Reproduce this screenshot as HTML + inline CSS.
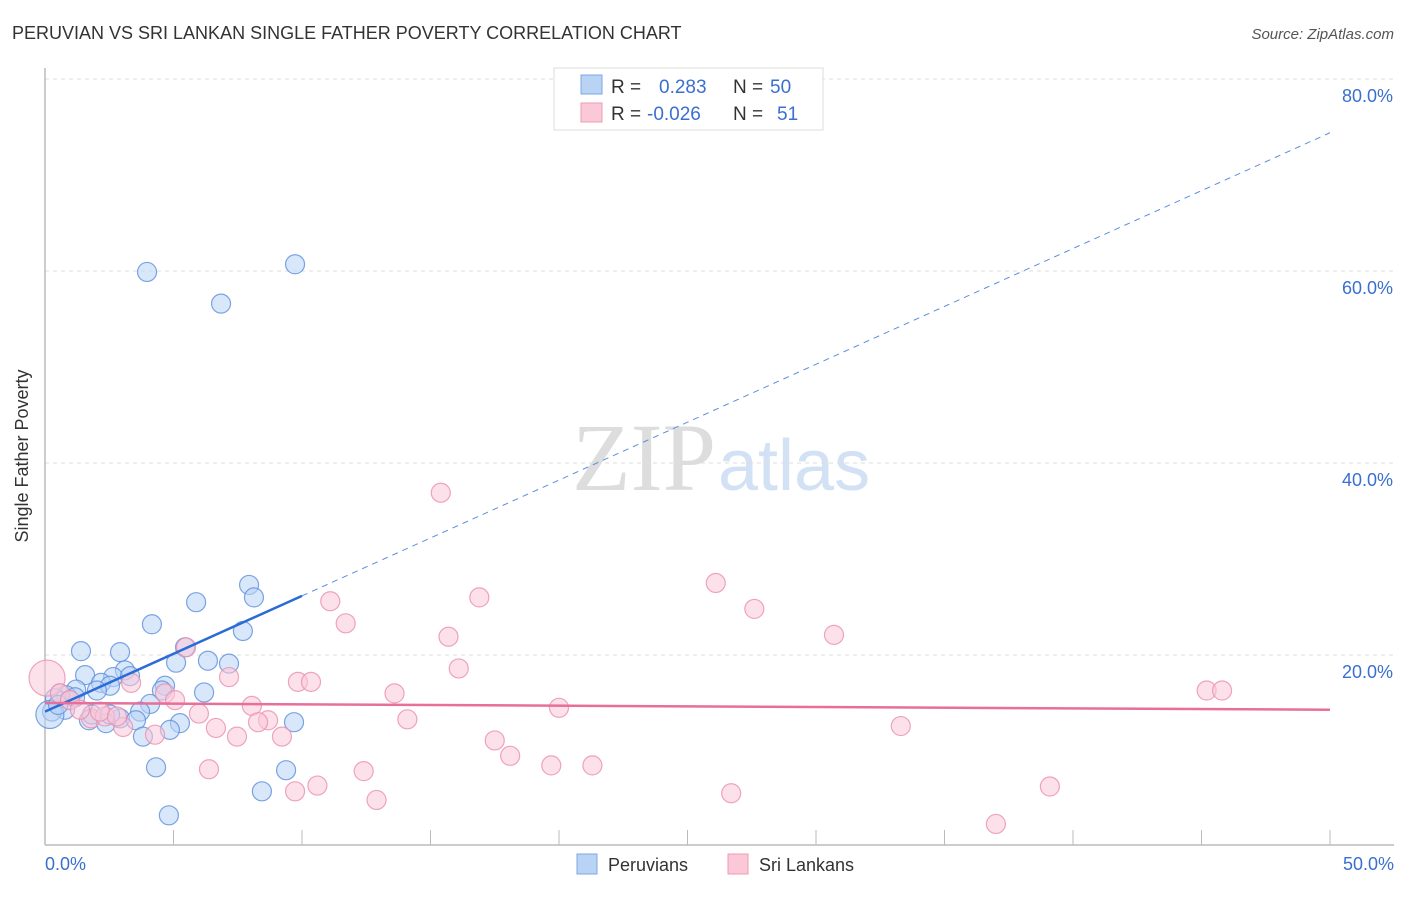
<!DOCTYPE html>
<html><head><meta charset="utf-8"><style>
body{margin:0;background:#fff;font-family:"Liberation Sans",sans-serif;}
</style></head><body>
<svg width="1406" height="892" xmlns="http://www.w3.org/2000/svg" font-family="Liberation Sans, sans-serif">
<text x="12" y="39" font-size="18" fill="#333">PERUVIAN VS SRI LANKAN SINGLE FATHER POVERTY CORRELATION CHART</text>
<text x="1394" y="39" font-size="15" fill="#555" font-style="italic" text-anchor="end">Source: ZipAtlas.com</text>
<text x="716" y="490" font-size="96" font-family="Liberation Serif, serif" fill="#ddd" text-anchor="end">ZIP</text>
<text x="718" y="490" font-size="72" fill="#d3e1f5">atlas</text>
<g id="grid"></g><g id="axes"></g><g id="pts"></g><g id="trends"></g>
<text x="28" y="456" font-size="18" fill="#333" transform="rotate(-90 28 456)" text-anchor="middle">Single Father Poverty</text>
<text x="45" y="870" font-size="18" fill="#3a6fd0">0.0%</text>
<text x="1394" y="870" font-size="18" fill="#3a6fd0" text-anchor="end">50.0%</text>
<g>
<rect x="554" y="68" width="269" height="62" fill="#fff" stroke="#ddd"/>
<rect x="581" y="75" width="21" height="19" fill="#b9d3f5" stroke="#7aa7e6"/>
<rect x="581" y="103" width="21" height="19" fill="#fbc8d8" stroke="#ee9bb6"/>
<text x="611" y="93" font-size="19" fill="#333">R =</text><text x="659" y="93" font-size="19" fill="#3a6fd0">0.283</text>
<text x="733" y="93" font-size="19" fill="#333">N =</text><text x="770" y="93" font-size="19" fill="#3a6fd0">50</text>
<text x="611" y="120" font-size="19" fill="#333">R =</text><text x="647" y="120" font-size="19" fill="#3a6fd0">-0.026</text>
<text x="733" y="120" font-size="19" fill="#333">N =</text><text x="777" y="120" font-size="19" fill="#3a6fd0">51</text>
</g>
<g>
<rect x="577" y="854" width="20" height="20" fill="#b9d3f5" stroke="#7aa7e6"/>
<text x="608" y="871" font-size="18" fill="#333">Peruvians</text>
<rect x="728" y="854" width="20" height="20" fill="#fbc8d8" stroke="#ee9bb6"/>
<text x="759" y="871" font-size="18" fill="#333">Sri Lankans</text>
</g>
</svg>
<script>
const yTicks=[20,40,60,80];
const yTickLabels=["20.0%","40.0%","60.0%","80.0%"];
const xTicks=[0,5,10,15,20,25,30,35,40,45,50];
const blueX=[3.97,9.73,6.85,7.94,8.13,5.88,4.16,7.70,5.45,1.40,2.92,6.34,7.16,5.10,3.11,1.56,2.65,3.31,2.18,2.53,4.67,4.55,2.02,1.21,6.19,0.58,0.82,0.39,0.97,4.09,3.70,0.78,0.27,2.92,1.71,2.37,3.54,5.25,9.69,3.81,4.86,4.32,9.38,8.44,4.82,0.19,0.51,1.83,2.53,1.17];
const blueY=[59.9,60.7,56.6,27.3,26.0,25.5,23.2,22.5,20.8,20.4,20.3,19.4,19.1,19.2,18.4,17.9,17.7,17.8,17.1,16.8,16.8,16.3,16.3,16.4,16.1,16.0,15.8,15.5,15.3,14.9,14.1,14.3,14.1,13.4,13.2,12.9,13.2,12.9,13.0,11.5,12.2,8.3,8.0,5.8,3.3,13.8,14.8,13.8,13.8,15.6];
const blueBig=[45];
const pinkX=[15.4,26.1,16.9,11.1,27.6,11.7,30.7,15.7,5.49,16.1,7.16,9.84,10.35,3.35,13.6,45.2,45.8,4.67,5.06,8.05,20.0,5.99,14.1,8.68,8.29,1.79,2.33,3.04,6.65,7.47,9.22,33.3,17.5,4.28,18.1,19.7,21.3,6.38,12.4,10.6,9.73,12.9,26.7,39.1,37.0,0.08,0.58,0.97,1.36,2.14,2.80];
const pinkY=[36.9,27.5,26.0,25.6,24.8,23.3,22.1,21.9,20.8,18.6,17.7,17.2,17.2,17.1,16.0,16.3,16.3,16.0,15.3,14.7,14.5,13.9,13.3,13.2,13.0,13.4,13.6,12.5,12.4,11.5,11.5,12.6,11.1,11.7,9.5,8.5,8.5,8.1,7.9,6.4,5.8,4.9,5.6,6.3,2.4,17.6,16.0,15.3,14.3,14.1,13.6];
const pinkBig=[45];
const blueTrend=[14.1,74.4];
const pinkTrend=[15.0,14.3];
const blueSolidEnd=10;
const NS="http://www.w3.org/2000/svg";
const sx=v=>45+v*25.7, sy=v=>847-v*9.6;
function mk(tag,attrs,parent){const e=document.createElementNS(NS,tag);for(const k in attrs)e.setAttribute(k,attrs[k]);parent.appendChild(e);return e;}
const grid=document.getElementById('grid'),axes=document.getElementById('axes'),pts=document.getElementById('pts'),tr=document.getElementById('trends');
yTicks.forEach((t,i)=>{
 const l=mk('line',{x1:45,x2:1394,y1:sy(t),y2:sy(t),stroke:'#ddd','stroke-dasharray':'4,4'},grid);
 
 
 const tx=mk('text',{x:1393,y:sy(t)+23,'font-size':18,fill:'#3a6fd0','text-anchor':'end'},grid);
 tx.textContent=yTickLabels[i];
 
 
});
let a=mk('line',{x1:45,x2:45,y1:68,y2:845,stroke:'#bbb','stroke-width':1.5},axes);


a=mk('line',{x1:45,x2:1394,y1:845,y2:845,stroke:'#bbb','stroke-width':1.5},axes);


xTicks.forEach(t=>{const l=mk('line',{x1:sx(t),x2:sx(t),y1:830,y2:845,stroke:'#bbb'},axes);
 
 });
function dots(X,Y,big,bigR,fill,stroke,name){X.forEach((x,i)=>{const r=i===big[0]?bigR:9.5;
 const c=mk('circle',{cx:sx(x),cy:sy(Y[i]),r:r,fill:fill,'fill-opacity':0.55,stroke:stroke,'stroke-width':1.2,'stroke-opacity':0.8},pts);
 
 });}
dots(blueX,blueY,blueBig,14,'#b9d3f5','#5b8fdc','peruvian-point');
dots(pinkX,pinkY,pinkBig,18,'#fbc8d8','#ea8fae','sri-lankan-point');
const bAt=x=>blueTrend[0]+(blueTrend[1]-blueTrend[0])*x/50;
let t=mk('line',{x1:sx(0),y1:sy(bAt(0)),x2:sx(blueSolidEnd),y2:sy(bAt(blueSolidEnd)),stroke:'#2a6bd6','stroke-width':2.5},tr);


t=mk('line',{x1:sx(blueSolidEnd),y1:sy(bAt(blueSolidEnd)),x2:sx(50),y2:sy(bAt(50)),stroke:'#5b8fdc','stroke-width':1,'stroke-dasharray':'6,5'},tr);


t=mk('line',{x1:sx(0),y1:sy(pinkTrend[0]),x2:sx(50),y2:sy(pinkTrend[1]),stroke:'#e76f9a','stroke-width':2.5},tr);


</script>
</body></html>
